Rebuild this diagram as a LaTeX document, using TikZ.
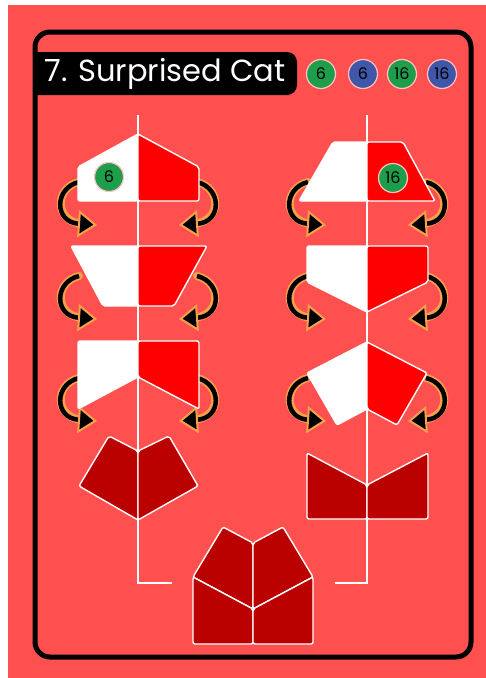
\documentclass[tikz,border=0pt]{standalone}
\usepackage{fontspec}
\setmainfont{Poppins}
\usetikzlibrary{arrows.meta}
\definecolor{cardRed}{HTML}{FF5050}
\definecolor{pieceRed}{HTML}{FF0000}
\definecolor{pieceDark}{HTML}{BB0000}
\definecolor{badgeGreen}{HTML}{1E9E4B}
\definecolor{badgeBlue}{HTML}{3F56A9}
\definecolor{curlOrange}{HTML}{F5A04A}

\begin{document}
\begin{tikzpicture}[
        x=1pt, y=-1pt,
        piece/.style={draw=white, line width=1.4pt, rounded corners=2pt, line join=round},
        light/.style={piece, fill=white},
        bright/.style={piece, fill=pieceRed},
        dark/.style={piece, fill=pieceDark},
        axis/.style={draw=white, line width=2pt},
        badge/.style={circle, minimum size=29pt, inner sep=0pt, draw=white!65!cardRed, line width=1.2pt, font=\fontsize{16}{16}\selectfont, text=black},
        curl/.style={draw=black, line width=4.5pt, -{Triangle[length=19pt,width=27pt,fill=black,color=curlOrange,line width=2pt]}, preaction={draw=curlOrange, line width=8pt, arrows=-, shorten >=14pt, line cap=round}}
    ]
        \useasboundingbox (0,0) rectangle (486,678);

        % Karte und Rahmen
        \fill[cardRed] (8,5) rectangle (486,678);
        \fill[black] (35,52) -- (280,52) [rounded corners=10pt] -- (297,52) -- (297,95) -- (280,95) [sharp corners] -- (35,95) -- cycle;
        \draw[line width=5pt, rounded corners=15pt] (35,32) rectangle (471,657);

        % Titel und Marken oben
        \node[anchor=west, text=white, font=\fontsize{30.5}{31}\selectfont] (title) at (41,74) {7. Surprised Cat};
        \node[badge, fill=badgeGreen] (sixA) at (321,74) {6};
        \node[badge, fill=badgeBlue] (sixB) at (363,74) {6};
        \node[badge, fill=badgeGreen] (sixteenA) at (402,74) {16};
        \node[badge, fill=badgeBlue] (sixteenB) at (442,74) {16};

        % Achsen
        \draw[axis] (138,115) -- (138,583) -- (172,583);
        \draw[axis] (367,115) -- (367,583) -- (335,583);

        % Drehpfeile (beide Spalten, drei Reihen)
        \foreach \dx in {0,229}{
            \foreach \dy in {0,94,196}{
                \begin{scope}[shift={(\dx,\dy)}]
                    \draw[curl] (79,182) .. controls (54,188) and (54,222) .. (97,225);
                    \draw[curl] (197,182) .. controls (222,188) and (222,222) .. (179,225);
                \end{scope}
            }
        }

        % Linke Spalte
        \draw[light] (138,134) -- (78,167) -- (78,201) -- (138,201) -- cycle;
        \draw[bright] (138,134) -- (199,167) -- (199,201) -- (138,201) -- cycle;
        \draw[light] (71,246) -- (138,246) -- (138,306) -- (103,306) -- cycle;
        \draw[bright] (138,246) -- (207,246) -- (174,306) -- (138,306) -- cycle;
        \draw[light] (78,341) -- (138,341) -- (138,377) -- (78,409) -- cycle;
        \draw[bright] (138,341) -- (199,341) -- (199,409) -- (138,377) -- cycle;
        \draw[dark] (109,436) -- (138,451) -- (138,520) -- (79,486) -- cycle;
        \draw[dark] (138,451) -- (169,436) -- (198,486) -- (138,520) -- cycle;

        % Rechte Spalte
        \draw[light] (333,142) -- (367,142) -- (367,201) -- (299,201) -- cycle;
        \draw[bright] (367,142) -- (403,142) -- (435,201) -- (367,201) -- cycle;
        \draw[light] (307,246) -- (367,246) -- (367,312) -- (307,282) -- cycle;
        \draw[bright] (367,246) -- (428,246) -- (428,282) -- (367,312) -- cycle;
        \draw[light] (367,342) -- (307,373) -- (337,425) -- (367,409) -- cycle;
        \draw[bright] (367,342) -- (427,373) -- (397,425) -- (367,409) -- cycle;
        \draw[dark] (307,453) -- (367,485) -- (367,519) -- (307,519) -- cycle;
        \draw[dark] (367,485) -- (428,453) -- (428,519) -- (367,519) -- cycle;

        % Ergebnis unten
        \draw[dark] (223,527) -- (253,543) -- (253,609) -- (193,577) -- cycle;
        \draw[dark] (253,543) -- (283,527) -- (313,577) -- (253,609) -- cycle;
        \draw[dark] (193,577) -- (253,609) -- (253,644) -- (193,644) -- cycle;
        \draw[dark] (253,609) -- (313,577) -- (313,644) -- (253,644) -- cycle;

        % Marken auf den Teilen
        \node[badge, fill=badgeGreen] (markSix) at (109,177) {6};
        \node[badge, fill=badgeGreen] (markSixteen) at (393,178) {16};
    \end{tikzpicture}
\end{document}
